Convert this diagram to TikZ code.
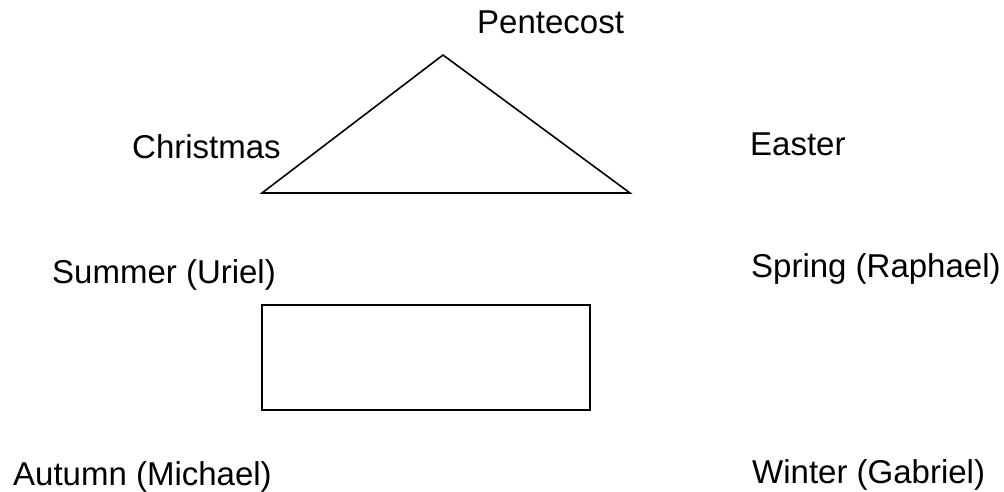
\documentclass[tikz,border=0pt]{standalone}
\usepackage{fontspec}
\setmainfont{Liberation Sans}
\begin{document}
\begin{tikzpicture}[x=1pt,y=-1pt,
  lbl/.style={font=\fontsize{33}{33}\selectfont, inner sep=0pt, anchor=base west},
  outline/.style={draw=black, line width=1.6pt, line join=miter}]
\useasboundingbox (0,0) rectangle (1004,492);
\node[lbl] (pentecost) at (477,34) {Pentecost};
\node[lbl] (christmas) at (132,158) {Christmas};
\node[lbl] (easter) at (750,156) {Easter};
\node[lbl] (summer) at (52,283) {Summer (Uriel)};
\node[lbl] (spring) at (751,277) {Spring (Raphael)};
\node[lbl] (autumn) at (13,485) {Autumn (Michael)};
\node[lbl] (winter) at (752,483) {Winter (Gabriel)};
\coordinate (apex) at (443,55);
\coordinate (bl) at (262,193);
\coordinate (br) at (630,193);
\draw[outline] (apex) -- (br) -- (bl) -- cycle;
\draw[outline] (262,305) rectangle (590,410);
\end{tikzpicture}
\end{document}
